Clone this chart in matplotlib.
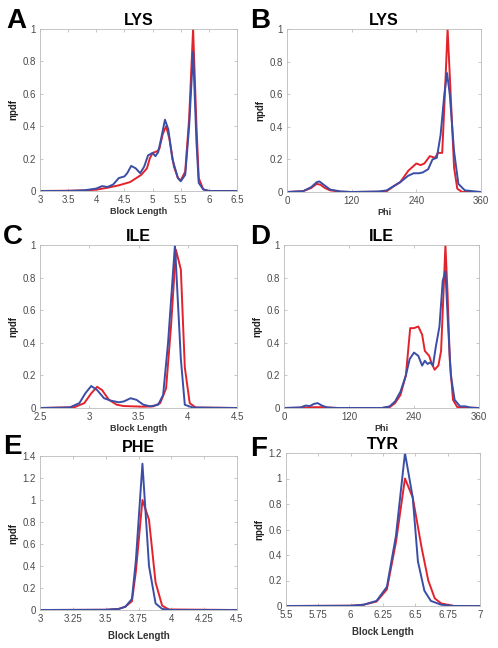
import numpy as np
import matplotlib.pyplot as plt
from matplotlib.ticker import FormatStrFormatter

plt.rcParams['font.family'] = ['Liberation Sans', 'DejaVu Sans']

RED = '#e3232c'
BLUE = '#3b4ea6'

# panel A, LYS block length
a_bx = [3, 3.5, 3.8, 4.0, 4.1, 4.2, 4.3, 4.4, 4.5, 4.55, 4.62, 4.7, 4.78, 4.85, 4.92, 5.0, 5.05, 5.1, 5.15, 5.22, 5.28, 5.35, 5.45, 5.5, 5.58, 5.65, 5.72, 5.78, 5.82, 5.9, 6.0, 6.5]
a_by = [0, 0, 0.005, 0.015, 0.03, 0.025, 0.04, 0.08, 0.09, 0.11, 0.155, 0.14, 0.11, 0.15, 0.22, 0.235, 0.215, 0.24, 0.32, 0.44, 0.38, 0.2, 0.08, 0.06, 0.1, 0.4, 0.86, 0.3, 0.05, 0.01, 0, 0]
a_rx = [3, 3.8, 4.0, 4.2, 4.4, 4.6, 4.8, 4.9, 4.95, 5.0, 5.08, 5.12, 5.18, 5.24, 5.3, 5.38, 5.45, 5.5, 5.58, 5.65, 5.72, 5.78, 5.82, 5.9, 6.0, 6.5]
a_ry = [0, 0.003, 0.008, 0.02, 0.035, 0.055, 0.1, 0.14, 0.2, 0.235, 0.245, 0.26, 0.35, 0.4, 0.32, 0.15, 0.08, 0.065, 0.12, 0.45, 1.0, 0.4, 0.08, 0.01, 0, 0]

# panel B, LYS phi
b_bx = [0, 30, 45, 55, 60, 70, 80, 100, 120, 170, 185, 200, 210, 225, 235, 245, 252, 262, 270, 278, 285, 292, 297, 302, 310, 318, 330, 360]
b_by = [0, 0.005, 0.03, 0.06, 0.065, 0.04, 0.015, 0.003, 0, 0.003, 0.01, 0.04, 0.06, 0.1, 0.115, 0.115, 0.12, 0.14, 0.2, 0.21, 0.35, 0.6, 0.73, 0.6, 0.25, 0.05, 0.01, 0]
b_rx = [0, 30, 45, 55, 62, 70, 80, 100, 120, 170, 185, 200, 210, 225, 240, 248, 255, 265, 270, 275, 280, 288, 293, 298, 303, 310, 316, 325, 360]
b_ry = [0, 0.005, 0.025, 0.05, 0.045, 0.025, 0.01, 0.002, 0, 0.002, 0.005, 0.04, 0.06, 0.13, 0.175, 0.165, 0.175, 0.22, 0.215, 0.21, 0.24, 0.24, 0.6, 1.0, 0.65, 0.15, 0.02, 0, 0]

# panel C, ILE block length
c_bx = [2.5, 2.8, 2.9, 2.96, 3.02, 3.08, 3.15, 3.22, 3.3, 3.35, 3.42, 3.48, 3.55, 3.62, 3.7, 3.75, 3.8, 3.87, 3.93, 3.97, 4.05, 4.5]
c_by = [0, 0.003, 0.03, 0.09, 0.135, 0.11, 0.06, 0.045, 0.035, 0.04, 0.06, 0.05, 0.02, 0.01, 0.02, 0.08, 0.4, 1.0, 0.3, 0.02, 0.003, 0]
c_rx = [2.5, 2.85, 2.95, 3.02, 3.08, 3.13, 3.2, 3.28, 3.35, 3.45, 3.55, 3.65, 3.72, 3.78, 3.83, 3.88, 3.93, 3.97, 4.02, 4.08, 4.5]
c_ry = [0, 0.005, 0.03, 0.09, 0.13, 0.11, 0.05, 0.02, 0.012, 0.01, 0.008, 0.01, 0.03, 0.12, 0.5, 0.97, 0.85, 0.25, 0.03, 0.003, 0]

# panel D, ILE phi
d_bx = [0, 30, 40, 48, 55, 62, 70, 80, 100, 180, 195, 205, 215, 225, 232, 240, 248, 255, 260, 265, 270, 275, 280, 287, 293, 298, 303, 308, 315, 325, 335, 345, 360]
d_by = [0, 0.003, 0.015, 0.012, 0.025, 0.03, 0.015, 0.003, 0, 0, 0.01, 0.04, 0.1, 0.2, 0.3, 0.34, 0.32, 0.26, 0.29, 0.27, 0.28, 0.26, 0.37, 0.5, 0.78, 0.84, 0.5, 0.2, 0.05, 0.01, 0.01, 0.002, 0]
d_rx = [0, 40, 55, 70, 100, 180, 195, 205, 215, 225, 233, 240, 248, 255, 260, 268, 272, 278, 285, 290, 295, 298, 302, 306, 312, 320, 360]
d_ry = [0, 0.003, 0.005, 0.005, 0, 0, 0.005, 0.03, 0.08, 0.2, 0.49, 0.49, 0.5, 0.45, 0.35, 0.32, 0.28, 0.235, 0.26, 0.35, 0.75, 1.0, 0.7, 0.3, 0.05, 0.005, 0]

# panel E, PHE block length
e_bx = [3, 3.5, 3.6, 3.65, 3.7, 3.73, 3.78, 3.83, 3.88, 3.93, 4.0, 4.5]
e_by = [0, 0.002, 0.01, 0.03, 0.1, 0.45, 1.33, 0.4, 0.06, 0.01, 0, 0]
e_rx = [3, 3.5, 3.6, 3.65, 3.7, 3.73, 3.78, 3.83, 3.88, 3.93, 3.98, 4.5]
e_ry = [0, 0.002, 0.01, 0.03, 0.08, 0.35, 1.0, 0.82, 0.25, 0.04, 0.005, 0]

# panel F, TYR block length
f_bx = [5.5, 6.0, 6.1, 6.2, 6.28, 6.35, 6.42, 6.48, 6.52, 6.57, 6.62, 6.7, 6.8, 7]
f_by = [0, 0.002, 0.01, 0.04, 0.15, 0.55, 1.2, 0.85, 0.35, 0.12, 0.04, 0.01, 0, 0]
f_rx = [5.5, 6.0, 6.1, 6.2, 6.28, 6.35, 6.42, 6.48, 6.55, 6.6, 6.65, 6.7, 6.8, 7]
f_ry = [0, 0.002, 0.01, 0.035, 0.13, 0.5, 1.0, 0.85, 0.45, 0.2, 0.06, 0.02, 0, 0]

panels = [
    ('A', 'LYS', 'Block Length', a_rx, a_ry, a_bx, a_by, (3, 6.5), [3, 3.5, 4, 4.5, 5, 5.5, 6, 6.5], 1.0),
    ('B', 'LYS', 'Phi', b_rx, b_ry, b_bx, b_by, (0, 360), [0, 120, 240, 360], 1.0),
    ('C', 'ILE', 'Block Length', c_rx, c_ry, c_bx, c_by, (2.5, 4.5), [2.5, 3, 3.5, 4, 4.5], 1.0),
    ('D', 'ILE', 'Phi', d_rx, d_ry, d_bx, d_by, (0, 360), [0, 120, 240, 360], 1.0),
    ('E', 'PHE', 'Block Length', e_rx, e_ry, e_bx, e_by, (3, 4.5), [3, 3.25, 3.5, 3.75, 4, 4.25, 4.5], 1.4),
    ('F', 'TYR', 'Block Length', f_rx, f_ry, f_bx, f_by, (5.5, 7), [5.5, 5.75, 6, 6.25, 6.5, 6.75, 7], 1.2),
]

# axes boxes in pixels: left, right, top, bottom
boxes = [(40, 237, 29, 191), (287, 481, 29, 192),
         (40, 237, 245, 408), (284, 479, 245, 408),
         (40, 237, 456, 610), (286, 480, 453, 606)]
# letter positions (left, top) in pixels
letters = [(6, 8), (250, 8), (3, 224), (250, 224), (3, 434), (250, 436)]

W, H = 498, 648
fig = plt.figure(figsize=(W / 100, H / 100), dpi=100)

for i, ((let, title, xlab, rx, ry, bx, by, xlim, xt, ymax), (l, r, t, b), (lx, ly)) in enumerate(zip(panels, boxes, letters)):
    big = i >= 4
    ax = fig.add_axes([l / W, 1 - b / H, (r - l) / W, (b - t) / H])
    ax.plot(rx, ry, color=RED, lw=1.4)
    ax.plot(bx, by, color=BLUE, lw=1.4)
    ax.set_xlim(*xlim)
    ax.set_ylim(0, ymax)
    ax.set_xticks(xt)
    ax.set_yticks(np.round(np.arange(0, ymax + 1e-9, 0.2), 2))
    ax.xaxis.set_major_formatter(FormatStrFormatter('%g'))
    ax.yaxis.set_major_formatter(FormatStrFormatter('%g'))
    ax.tick_params(direction='in', length=2, width=0.5, labelsize=7,
                   colors='#b0b0b0', labelcolor='#4a4a4a', top=True, right=True, pad=3)
    for s in ax.spines.values():
        s.set_color('#bcbcbc')
        s.set_linewidth(0.6)
    ax.set_title(title, fontsize=11.5, fontweight='bold', pad=3)
    ax.set_xlabel(xlab, fontsize=7 if big else 6.5, fontweight='bold',
                  labelpad=5 if big else 1, color='#333333')
    ax.set_ylabel('npdf', fontsize=7, fontweight='bold', labelpad=3, color='#222222')
    fig.text(lx / W, 1 - ly / H, let, fontsize=20, fontweight='bold',
             ha='left', va='top')

fig.savefig('out.png', dpi=100)
